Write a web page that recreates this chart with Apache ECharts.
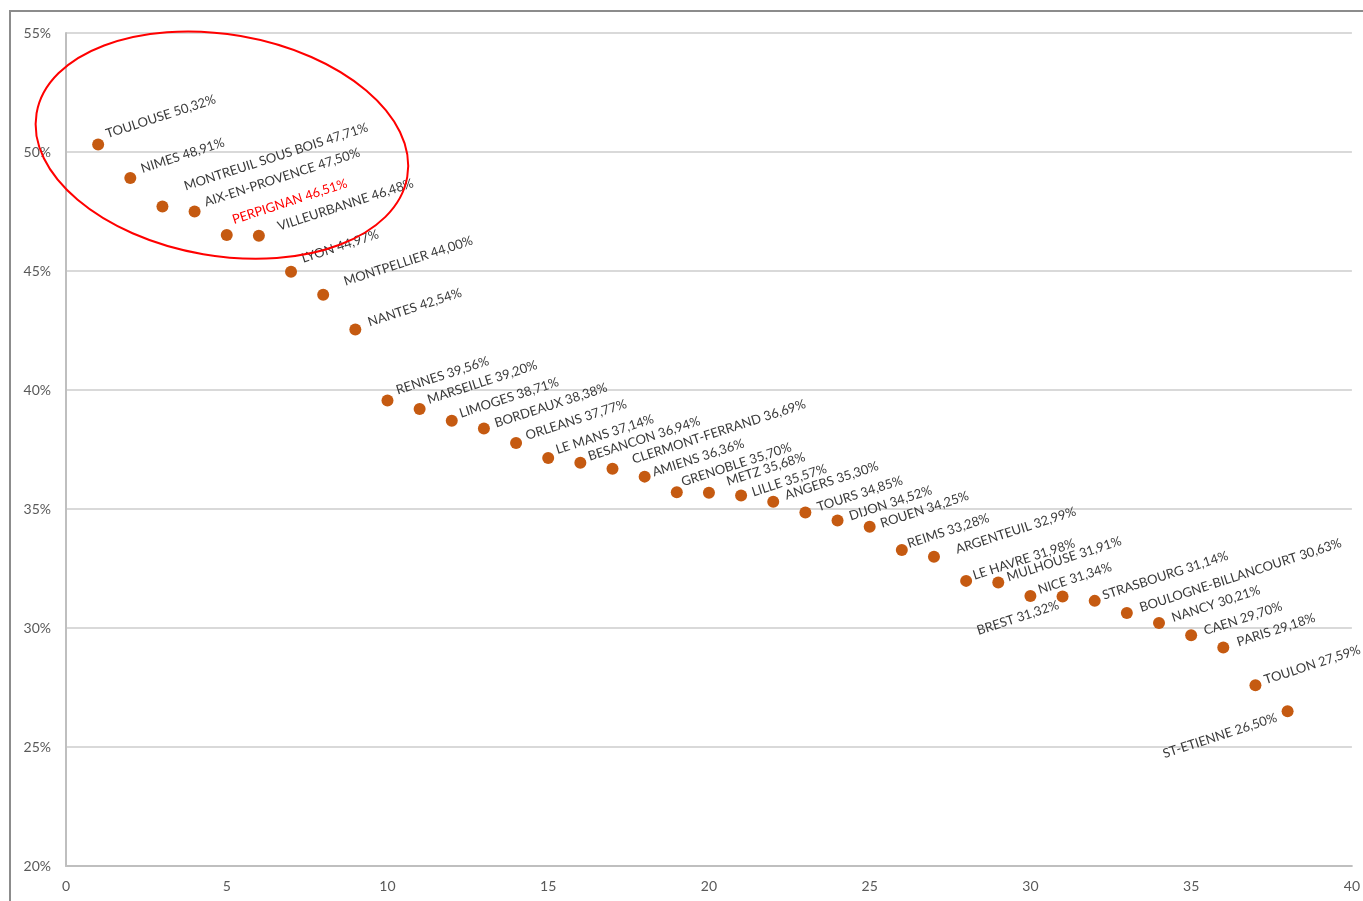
<!DOCTYPE html>
<html>
<head>
<meta charset="utf-8">
<script src="https://cdn.jsdelivr.net/npm/echarts@6/dist/echarts.min.js"></script>
<style>
html,body{margin:0;padding:0;background:#fff;}
#chart{width:1363px;height:901px;}
</style>
</head>
<body>
<div id="chart"></div>
<script>
const cities = ["TOULOUSE","NIMES","MONTREUIL SOUS BOIS","AIX-EN-PROVENCE","PERPIGNAN","VILLEURBANNE","LYON","MONTPELLIER","NANTES","RENNES","MARSEILLE","LIMOGES","BORDEAUX","ORLEANS","LE MANS","BESANCON","CLERMONT-FERRAND","AMIENS","GRENOBLE","METZ","LILLE","ANGERS","TOURS","DIJON","ROUEN","REIMS","ARGENTEUIL","LE HAVRE","MULHOUSE","NICE","BREST","STRASBOURG","BOULOGNE-BILLANCOURT","NANCY","CAEN","PARIS","TOULON","ST-ETIENNE"];
const ranks = [1,2,3,4,5,6,7,8,9,10,11,12,13,14,15,16,17,18,19,20,21,22,23,24,25,26,27,28,29,30,31,32,33,34,35,36,37,38];
const rates = [50.32,48.91,47.71,47.50,46.51,46.48,44.97,44.00,42.54,39.56,39.20,38.71,38.38,37.77,37.14,36.94,36.69,36.36,35.70,35.68,35.57,35.30,34.85,34.52,34.25,33.28,32.99,31.98,31.91,31.34,31.32,31.14,30.63,30.21,29.70,29.18,27.59,26.50];
const xTicks = [0,5,10,15,20,25,30,35,40];
const yTicks = [20,25,30,35,40,45,50,55];

// label anchor placement (style only): pixel shift from the marker centre
const labelShift = {
  "TOULOUSE":[8,-10],"NIMES":[11,-9],"MONTREUIL SOUS BOIS":[22,-20],"AIX-EN-PROVENCE":[10,-9],
  "PERPIGNAN":[6,-15],"VILLEURBANNE":[19,-9],"LYON":[11,-13],"MONTPELLIER":[21,-13],"NANTES":[13,-7],
  "RENNES":[9,-10],"MARSEILLE":[8,-9],"LIMOGES":[8,-7],"BORDEAUX":[11,-5],"ORLEANS":[10,-7],
  "LE MANS":[8,-8],"BESANCON":[8,-6],"CLERMONT-FERRAND":[20,-9],"AMIENS":[8,-4],"GRENOBLE":[5,-10],
  "METZ":[18,-11],"LILLE":[11,-3],"ANGERS":[12,-6],"TOURS":[12,-5],"DIJON":[12,-4],"ROUEN":[11,-3],
  "REIMS":[6,-6],"ARGENTEUIL":[22,-7],"LE HAVRE":[7,-5],"MULHOUSE":[9,-5],"NICE":[8,-6],
  "BREST":[-4,8],"STRASBOURG":[8,-5],"BOULOGNE-BILLANCOURT":[13,-5],"NANCY":[13,-5],"CAEN":[13,-4],
  "PARIS":[14,-5],"TOULON":[9,-5],"ST-ETIENNE":[-11,6]
};
const leftLabels = ["BREST","ST-ETIENNE"];
const redLabels = ["PERPIGNAN"];
const SYM = 12;

const fmt = v => v.toFixed(2).replace('.', ',') + '%';

const data = cities.map((c,i) => {
  const s = labelShift[c] || [9,-6];
  const left = leftLabels.indexOf(c) >= 0;
  return {
    name:c, value:[ranks[i], rates[i]],
    label:{
      position:[SYM/2 + s[0], SYM/2 + s[1]],
      align: left ? 'right' : 'left',
      verticalAlign:'middle',
      color: redLabels.indexOf(c) >= 0 ? '#ff0000' : '#3a3a3a'
    }
  };
});

const chart = echarts.init(document.getElementById('chart'), null, {renderer:'canvas'});
const option = {
  backgroundColor:'#ffffff',
  animation:false,
  grid:{left:66, right:11, top:33, bottom:35},
  xAxis:{
    type:'value', min:xTicks[0], max:xTicks[xTicks.length-1], interval:5,
    axisLine:{show:true, lineStyle:{color:'#bfbfbf', width:2}},
    axisTick:{show:false},
    splitLine:{show:false},
    axisLabel:{color:'#595959', fontFamily:'Lato', fontSize:14, margin:13}
  },
  yAxis:{
    type:'value', min:yTicks[0], max:yTicks[yTicks.length-1], interval:5,
    axisLine:{show:true, lineStyle:{color:'#bfbfbf', width:2}},
    axisTick:{show:false},
    splitLine:{show:true, lineStyle:{color:'#d9d9d9', width:2}},
    axisLabel:{color:'#595959', fontFamily:'Lato', fontSize:14, margin:15, formatter:'{value}%'}
  },
  series:[{
    type:'scatter',
    symbol:'circle',
    symbolSize:SYM,
    itemStyle:{color:'#C55A11', opacity:1},
    data:data,
    label:{
      show:true,
      rotate:18,
      color:'#3a3a3a',
      fontFamily:'Lato',
      fontSize:13,
      formatter:p => p.name + ' ' + fmt(p.value[1])
    },
    labelLayout:{hideOverlap:false},
    z:3
  }]
};
chart.setOption(option);

// decorative frame and annotation ellipse (placed through the chart's own scales)
const c = chart.convertToPixel({gridIndex:0}, [4.85, 50.29]);
const e1 = chart.convertToPixel({gridIndex:0}, [4.85 + 5.85, 50.29]);
const e2 = chart.convertToPixel({gridIndex:0}, [4.85, 50.29 + 4.65]);
chart.setOption({
  graphic:[
    {type:'polyline', shape:{points:[[10,901],[10,11],[1363,11]]}, style:{stroke:'#8c8c8c', lineWidth:2, fill:null}, silent:true},
    {type:'ellipse', shape:{cx:0, cy:0, rx:e1[0]-c[0], ry:c[1]-e2[1]}, x:c[0], y:c[1], rotation:-0.17,
     style:{stroke:'#ff0000', lineWidth:2, fill:null}, silent:true, z:10}
  ]
});
</script>
</body>
</html>
